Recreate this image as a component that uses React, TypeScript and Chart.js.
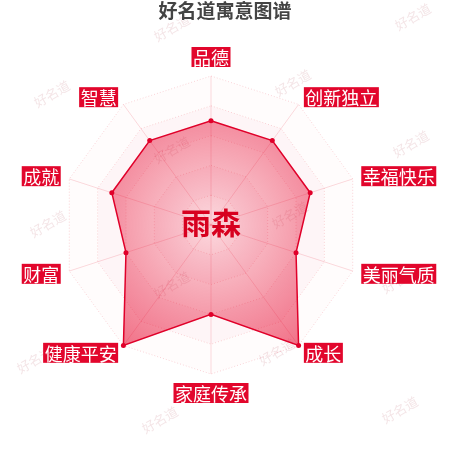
import { useRef, useEffect } from 'react';
import { Chart, registerables } from 'chart.js';

Chart.register(...registerables);

// Chart data
const indicators = ['品德', '创新独立', '幸福快乐', '美丽气质', '成长', '家庭传承', '健康平安', '财富', '成就', '智慧'];
const scores = [70, 70, 70, 60, 100, 60, 100, 60, 70, 70];
const scaleMax = 100;
const scaleStep = 20;

const chartTitle = '好名道寓意图谱';
const nameText = '雨森';
const watermarkText = '好名道';

// watermark spots (decoration only)
const watermarkSpots = [
  [172, 28], [413, 17], [52, 94], [293, 83], [172, 150], [411, 144], [48, 224],
  [290, 215], [172, 285], [400, 280], [35, 360], [277, 352], [160, 420], [400, 410]
];

const FONT = '"Noto Sans CJK SC", "Noto Sans", sans-serif';
const RED = '#e2062c';

const watermarkPlugin = {
  id: 'watermarks',
  beforeDraw(chart: Chart) {
    const ctx = chart.ctx;
    ctx.save();
    ctx.font = `13px ${FONT}`;
    ctx.fillStyle = 'rgba(210, 150, 160, 0.25)';
    ctx.textAlign = 'center';
    ctx.textBaseline = 'middle';
    watermarkSpots.forEach(([x, y]) => {
      ctx.save();
      ctx.translate(x, y);
      ctx.rotate(-Math.PI / 6);
      ctx.fillText(watermarkText, 0, 0);
      ctx.restore();
    });
    ctx.restore();
  }
};

// alternating faint bands between the rings
const splitAreaPlugin = {
  id: 'splitArea',
  beforeDatasetsDraw(chart: Chart) {
    const scale: any = chart.scales.r;
    const ctx = chart.ctx;
    const n = indicators.length;
    const steps = scaleMax / scaleStep;
    const ring = (v: number) => {
      const d = scale.getDistanceFromCenterForValue(v);
      for (let i = 0; i < n; i++) {
        const p = scale.getPointPosition(i, d);
        if (i === 0) ctx.moveTo(p.x, p.y);
        else ctx.lineTo(p.x, p.y);
      }
      ctx.closePath();
    };
    ctx.save();
    for (let k = 0; k < steps; k++) {
      ctx.beginPath();
      ring((k + 1) * scaleStep);
      if (k > 0) ring(k * scaleStep);
      ctx.fillStyle = k % 2 === 1 ? 'rgba(230, 0, 40, 0.04)' : 'rgba(230, 0, 40, 0.01)';
      ctx.fill('evenodd');
    }
    ctx.restore();
  }
};

const labelsPlugin = {
  id: 'nameLabels',
  afterDraw(chart: Chart) {
    const scale: any = chart.scales.r;
    const ctx = chart.ctx;
    ctx.save();

    // title
    ctx.font = `bold 19px ${FONT}`;
    ctx.fillStyle = '#444';
    ctx.textAlign = 'center';
    ctx.textBaseline = 'middle';
    ctx.fillText(chartTitle, chart.width / 2, 11);

    // name in the middle
    ctx.font = `bold 30px ${FONT}`;
    ctx.fillStyle = '#d7001f';
    ctx.fillText(nameText, scale.xCenter, scale.yCenter - 2);

    // indicator names in red boxes
    ctx.font = `18px ${FONT}`;
    const boxH = 20;
    indicators.forEach((label, i) => {
      const pos = scale.getPointPosition(i, scale.drawingArea + 9);
      const angle = scale.getIndexAngle(i);
      const sx = Math.sin(angle);
      const cy = Math.cos(angle);
      const boxW = ctx.measureText(label).width + 3;
      let left = pos.x;
      if (Math.abs(sx) < 0.01) left = pos.x - boxW / 2;
      else if (sx < 0) left = pos.x - boxW;
      let top = pos.y - boxH / 2;
      if (Math.abs(sx) < 0.01) top = cy > 0 ? pos.y - boxH : pos.y;
      ctx.fillStyle = RED;
      ctx.fillRect(left, top, boxW, boxH);
      ctx.fillStyle = '#fff';
      ctx.fillText(label, left + boxW / 2, top + boxH / 2 + 1);
    });
    ctx.restore();
  }
};

export default function App() {
  const chartRef = useRef<HTMLCanvasElement>(null);
  const chartInstance = useRef<Chart | null>(null);

  useEffect(() => {
    if (!chartRef.current) return;
    if (chartInstance.current) chartInstance.current.destroy();
    const ctx = chartRef.current.getContext('2d');
    if (!ctx) return;

    chartInstance.current = new Chart(ctx, {
      type: 'radar',
      data: {
        labels: indicators,
        datasets: [
          {
            label: nameText,
            data: scores,
            borderColor: '#e0002a',
            borderWidth: 1.5,
            pointRadius: 2.5,
            pointBackgroundColor: '#e0002a',
            pointBorderWidth: 0,
            backgroundColor: (context: any) => {
              const chart = context.chart;
              const scale: any = chart.scales.r;
              if (!scale || !chart.chartArea) return 'rgba(230, 0, 40, 0.35)';
              const g = chart.ctx.createRadialGradient(
                scale.xCenter, scale.yCenter, 0,
                scale.xCenter, scale.yCenter, scale.drawingArea
              );
              g.addColorStop(0, 'rgba(230, 0, 40, 0.14)');
              g.addColorStop(1, 'rgba(230, 0, 40, 0.55)');
              return g;
            }
          }
        ]
      },
      options: {
        responsive: true,
        maintainAspectRatio: false,
        animation: false,
        layout: {
          padding: { left: 62, right: 90, top: 76, bottom: 76 }
        },
        plugins: {
          legend: { display: false },
          title: { display: false },
          tooltip: { enabled: false }
        },
        scales: {
          r: {
            min: 0,
            max: scaleMax,
            ticks: { display: false, stepSize: scaleStep },
            pointLabels: { display: false },
            grid: { color: 'rgba(230, 0, 40, 0.18)', lineWidth: 1 },
            border: { dash: [1, 2] },
            angleLines: { color: 'rgba(230, 0, 40, 0.15)', lineWidth: 1, borderDash: [] }
          }
        }
      },
      plugins: [watermarkPlugin, splitAreaPlugin, labelsPlugin]
    });

    return () => {
      if (chartInstance.current) {
        chartInstance.current.destroy();
        chartInstance.current = null;
      }
    };
  }, []);

  return (
    <div style={{ position: 'fixed', left: 0, top: 0, width: 450, height: 450, background: '#fff' }}>
      <canvas ref={chartRef} />
    </div>
  );
}
